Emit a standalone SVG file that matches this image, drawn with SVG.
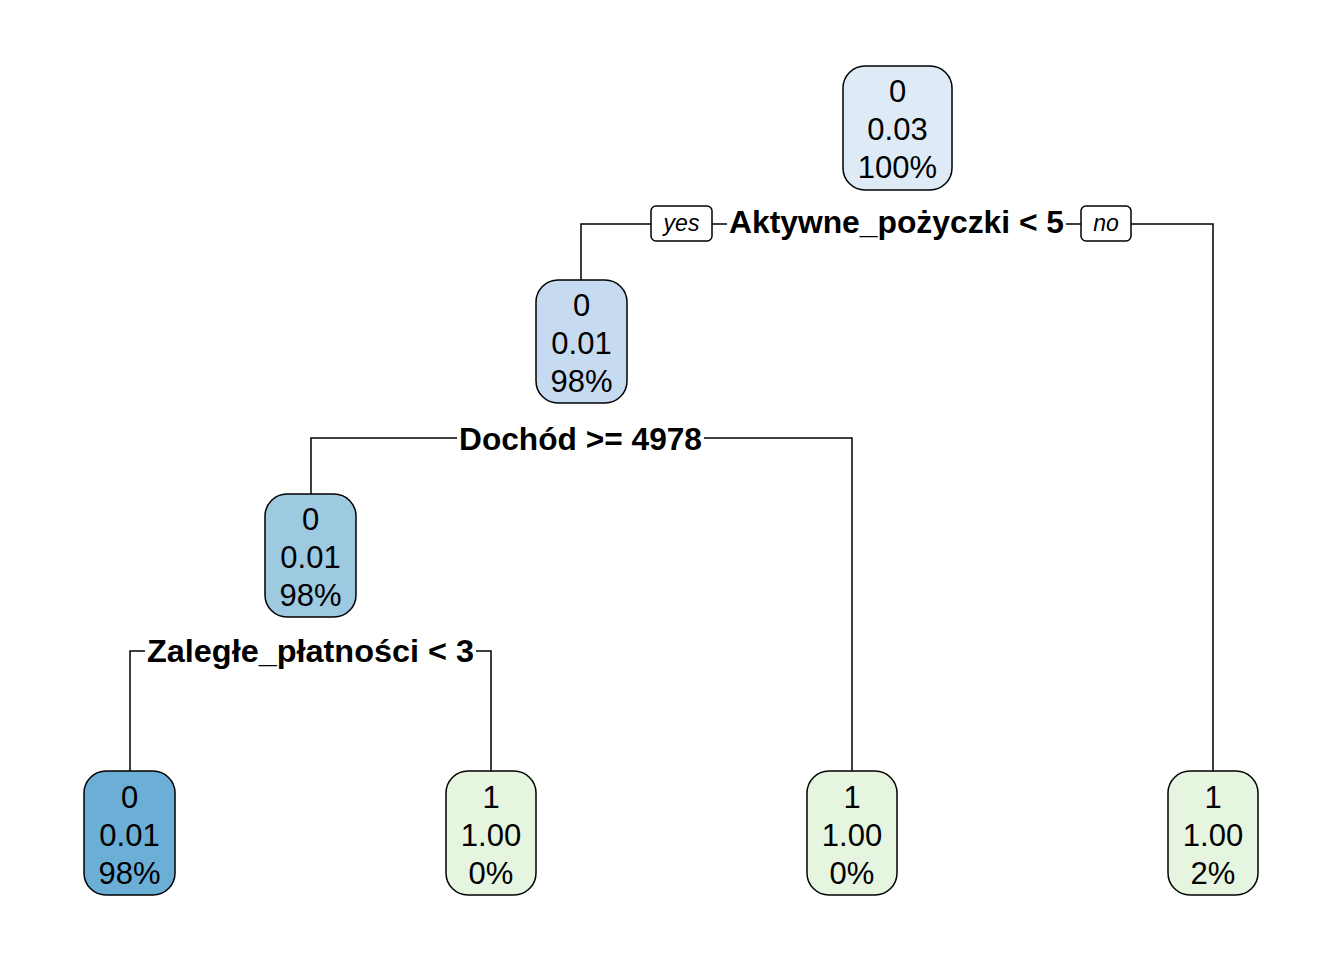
<svg xmlns="http://www.w3.org/2000/svg" width="1344" height="960" viewBox="0 0 1344 960">
<style>
.n{stroke:#000;stroke-width:1.5}
.t{font-family:"Liberation Sans",Arial,sans-serif;font-size:31px;text-anchor:middle;fill:#000}
.b{font-family:"Liberation Sans",Arial,sans-serif;font-size:31px;font-weight:bold;text-anchor:middle;fill:#000}
.i{font-family:"Liberation Sans",Arial,sans-serif;font-size:23px;font-style:italic;text-anchor:middle;fill:#000}
.c{fill:none;stroke:#000;stroke-width:1.5}
</style>
<rect width="1344" height="960" fill="#fff"/>
<g id="connectors">
<path class="c" d="M581,280 V224 H651 M712,224 H727 M1066,224 H1081 M1131,224 H1213 V771"/>
<path class="c" d="M311,494 V438 H457 M704,438 H852 V771"/>
<path class="c" d="M130,771 V651 H145 M476,651 H491 V771"/>
<rect x="651" y="206" width="61" height="35" rx="5" fill="#fff" stroke="#000" stroke-width="1.5"/>
<text class="i" x="681.5" y="231">yes</text>
<rect x="1081" y="206" width="50" height="35" rx="5" fill="#fff" stroke="#000" stroke-width="1.5"/>
<text class="i" x="1106" y="231">no</text>
</g>
<g id="split1"><text class="b" x="896.5" y="233" textLength="335" lengthAdjust="spacingAndGlyphs">Aktywne_pożyczki &lt; 5</text></g>
<g id="split2"><text class="b" x="580.5" y="450" textLength="243" lengthAdjust="spacingAndGlyphs">Dochód &gt;= 4978</text></g>
<g id="split3"><text class="b" x="310.5" y="662" textLength="327" lengthAdjust="spacingAndGlyphs">Zaległe_płatności &lt; 3</text></g>
<g id="root">
<rect class="n" x="843" y="66" width="109" height="124" rx="22" fill="#DEEBF7"/>
<text class="t" x="897.5" y="102">0</text><text class="t" x="897.5" y="140">0.03</text><text class="t" x="897.5" y="178">100%</text>
</g>
<g id="node2">
<rect class="n" x="536" y="280" width="91" height="123" rx="22" fill="#C6DBEF"/>
<text class="t" x="581.5" y="316">0</text><text class="t" x="581.5" y="354">0.01</text><text class="t" x="581.5" y="392">98%</text>
</g>
<g id="node3">
<rect class="n" x="265" y="494" width="91" height="123" rx="22" fill="#9ECAE1"/>
<text class="t" x="310.5" y="530">0</text><text class="t" x="310.5" y="568">0.01</text><text class="t" x="310.5" y="606">98%</text>
</g>
<g id="leaf1">
<rect class="n" x="84" y="771" width="91" height="124" rx="22" fill="#6BAED6"/>
<text class="t" x="129.5" y="808">0</text><text class="t" x="129.5" y="846">0.01</text><text class="t" x="129.5" y="884">98%</text>
</g>
<g id="leaf2">
<rect class="n" x="446" y="771" width="90" height="124" rx="22" fill="#E5F5E0"/>
<text class="t" x="491" y="808">1</text><text class="t" x="491" y="846">1.00</text><text class="t" x="491" y="884">0%</text>
</g>
<g id="leaf3">
<rect class="n" x="807" y="771" width="90" height="124" rx="22" fill="#E5F5E0"/>
<text class="t" x="852" y="808">1</text><text class="t" x="852" y="846">1.00</text><text class="t" x="852" y="884">0%</text>
</g>
<g id="leaf4">
<rect class="n" x="1168" y="771" width="90" height="124" rx="22" fill="#E5F5E0"/>
<text class="t" x="1213" y="808">1</text><text class="t" x="1213" y="846">1.00</text><text class="t" x="1213" y="884">2%</text>
</g>
</svg>
